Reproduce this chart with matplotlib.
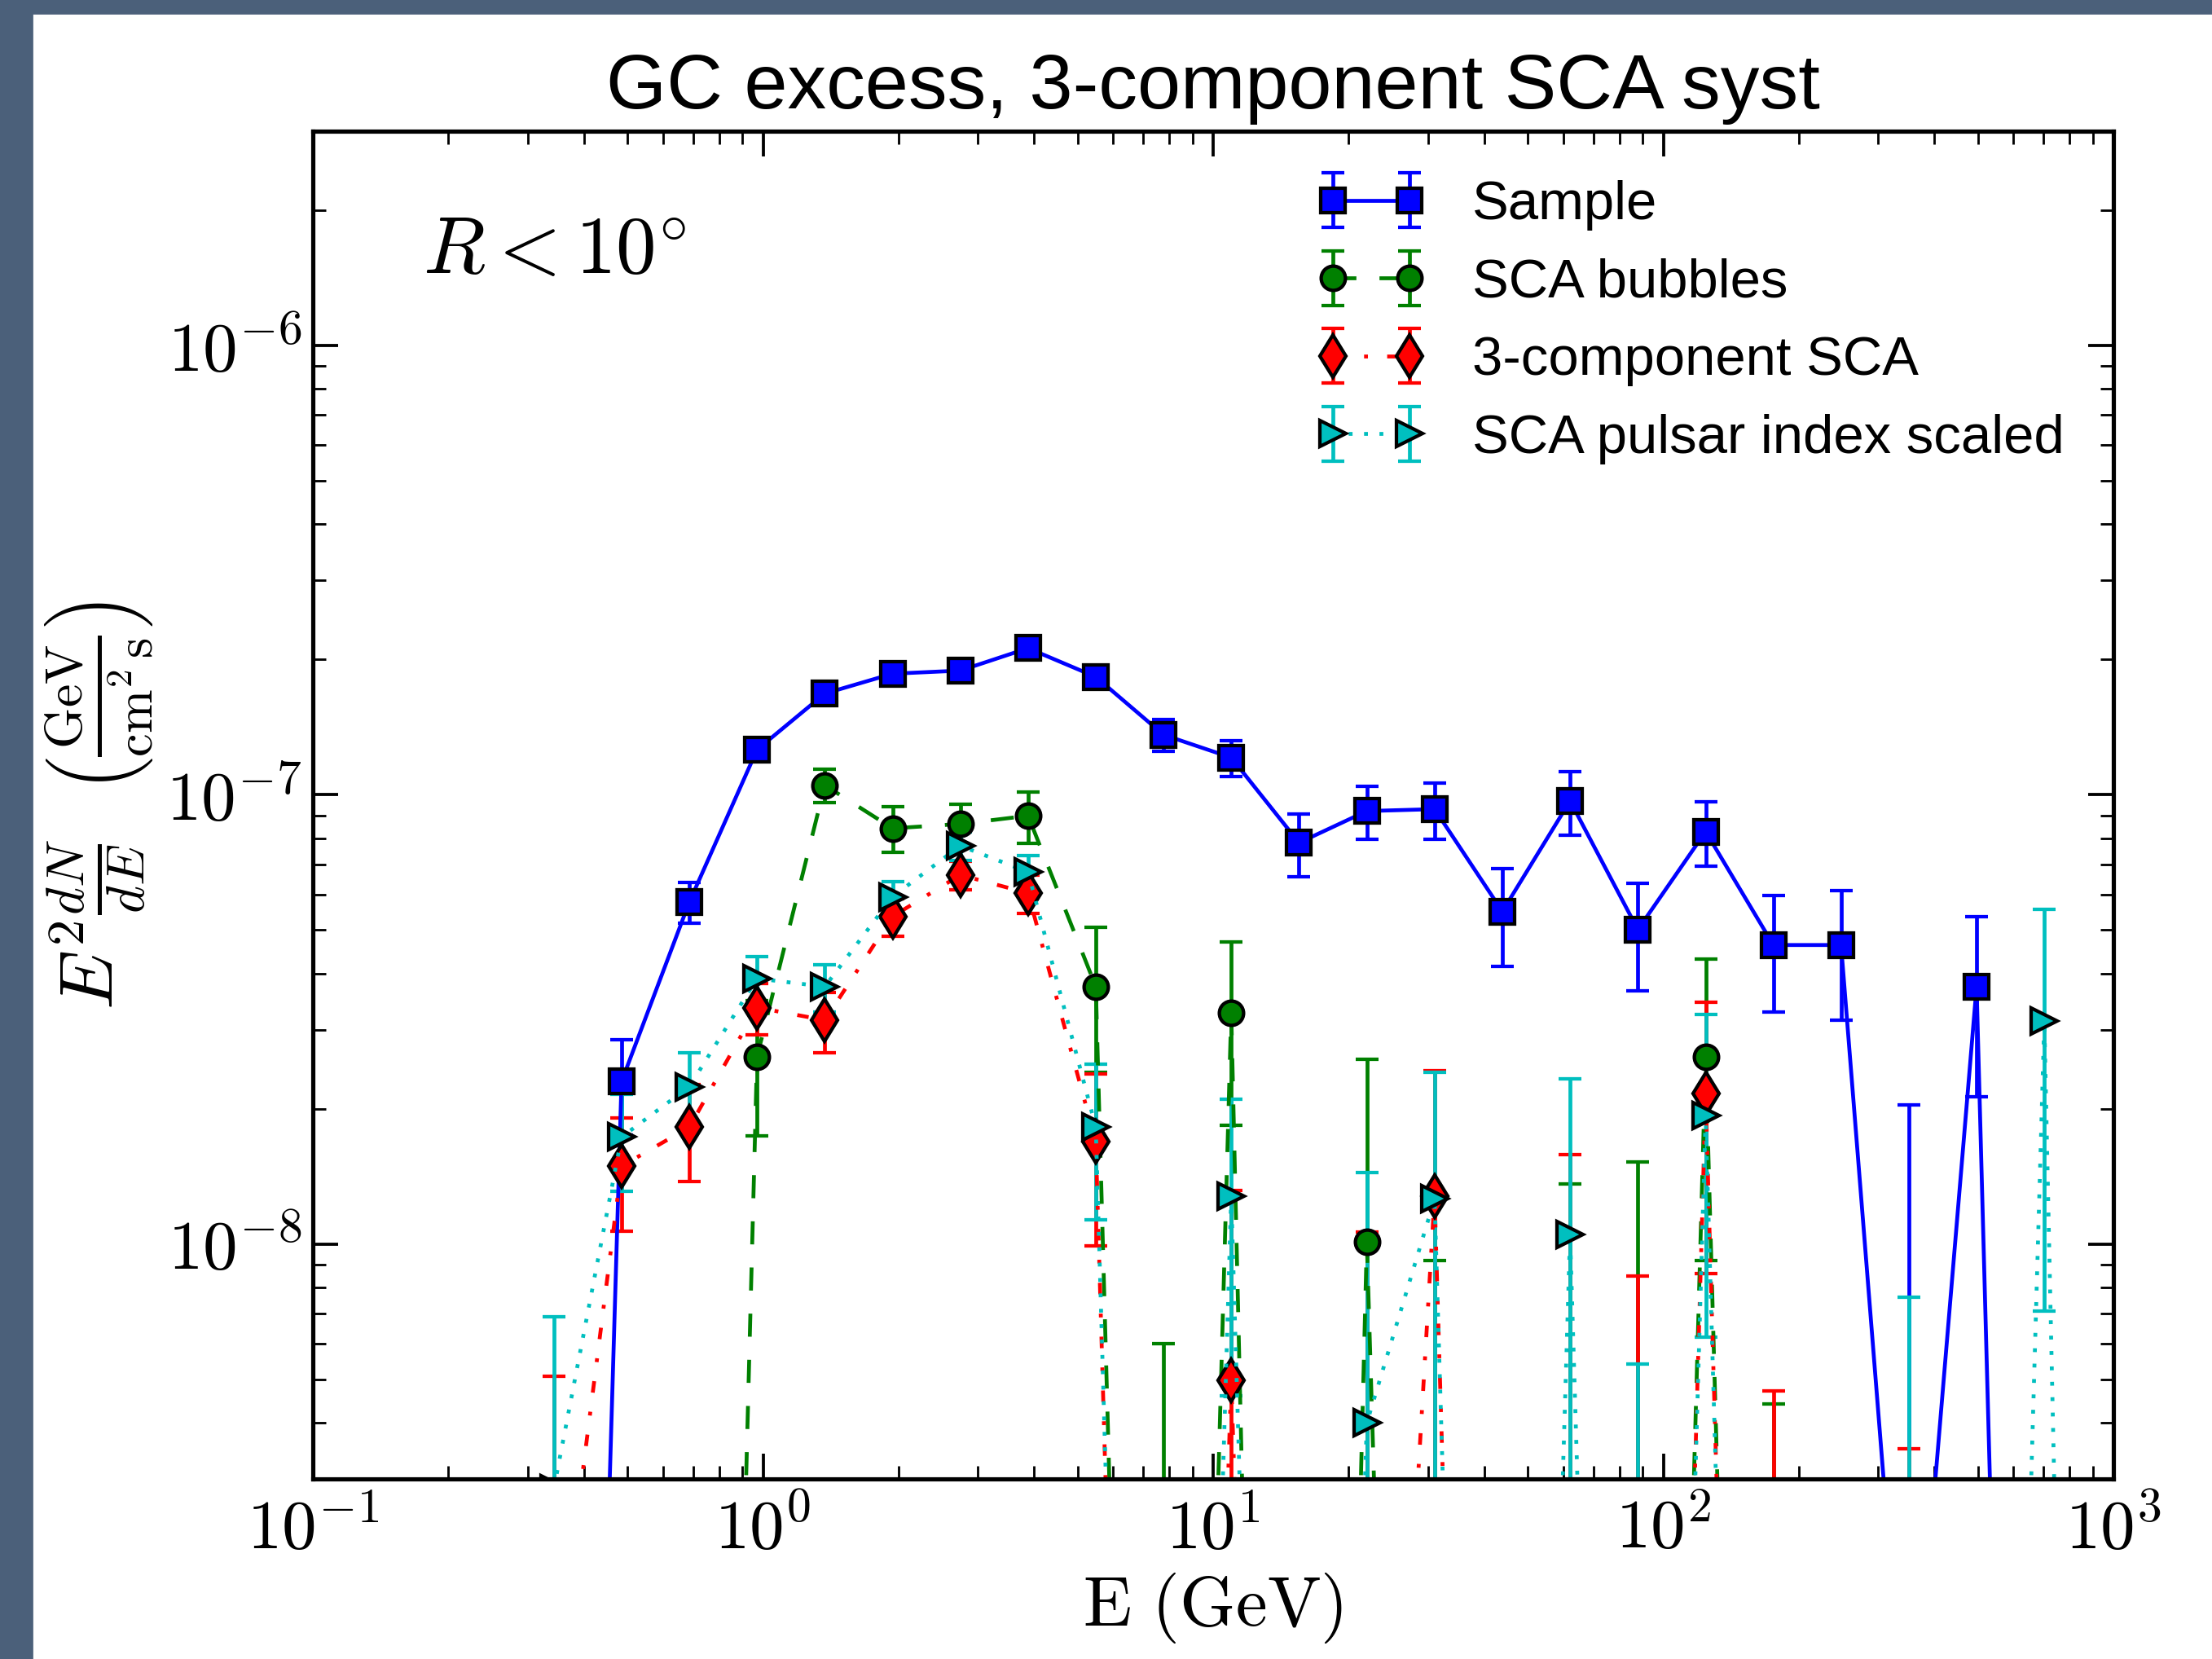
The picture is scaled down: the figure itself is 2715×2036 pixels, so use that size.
import numpy as np, matplotlib
matplotlib.use('Agg')
import matplotlib.pyplot as plt
import matplotlib.patches as mpatches
from matplotlib.ticker import FuncFormatter, NullFormatter, LogLocator

SLATE = '#4b607a'; BLUE = '#0000ff'; GREEN = '#008000'; RED = '#ff0000'; CYAN = '#00bfbf'
plt.rcParams.update({
    'font.family': 'Liberation Sans', 'mathtext.fontset': 'cm',
    'lines.scale_dashes': False, 'lines.dashed_pattern': [6, 6],
    'lines.dashdot_pattern': [3, 5, 1, 5], 'lines.dotted_pattern': [1, 3],
    'xtick.direction': 'in', 'ytick.direction': 'in', 'xtick.top': True, 'ytick.right': True,
    'xtick.major.size': 6.5, 'ytick.major.size': 6.5, 'xtick.minor.size': 3.3, 'ytick.minor.size': 3.3,
    'xtick.major.width': 0.8, 'ytick.major.width': 0.8, 'xtick.minor.width': 0.6, 'ytick.minor.width': 0.6,
    'xtick.major.pad': 5, 'ytick.major.pad': 3, 'axes.linewidth': 1.1,
})

# energy bin centres (GeV)
energy = [0.343, 0.485, 0.686, 0.970, 1.372, 1.940, 2.744, 3.880, 5.487, 7.760, 10.97, 15.52,
          21.95, 31.04, 43.90, 62.08, 87.80, 124.2, 175.6, 248.3, 351.2, 496.6, 702.3, 993.2]

sample = [1.9e-13, 2.30e-8, 5.77e-8, 1.26e-7, 1.68e-7, 1.86e-7, 1.89e-7, 2.12e-7, 1.83e-7, 1.36e-7,
          1.21e-7, 7.82e-8, 9.20e-8, 9.29e-8, 5.50e-8, 9.69e-8, 5.01e-8, 8.28e-8, 4.63e-8, 4.63e-8,
          5.9e-10, 3.74e-8, 1.0e-13, 1.0e-13]
sample_err = [0, 5.5e-9, 6.0e-9, 5e-9, 5e-9, 5e-9, 5e-9, 6e-9, 7e-9, 1.1e-8,
              1.1e-8, 1.25e-8, 1.25e-8, 1.33e-8, 1.35e-8, 1.55e-8, 1.35e-8, 1.35e-8, 1.34e-8, 1.48e-8,
              1.98e-8, 1.61e-8, 0, 0]

bubbles = [1e-13, 1e-13, 4e-14, 2.61e-8, 1.05e-7, 8.42e-8, 8.61e-8, 8.98e-8, 3.74e-8, 1.2e-13,
           3.27e-8, 1e-14, 1.01e-8, 1e-13, 1e-13, 1e-13, 1e-13, 2.61e-8, 1e-13, 1e-13,
           1e-13, 1e-13, 1e-13, 1e-13]
bubbles_err = [0, 0, 0, 8.7e-9, 9.1e-9, 9.7e-9, 9.0e-9, 1.18e-8, 1.33e-8, 6.0e-9,
               1.43e-8, 0, 1.57e-8, 9.2e-9, 0, 1.36e-8, 1.52e-8, 1.69e-8, 4.4e-9, 0,
               0, 0, 0, 0]

three_comp = [9.7e-10, 1.49e-8, 1.82e-8, 3.36e-8, 3.15e-8, 5.36e-8, 6.63e-8, 6.04e-8, 1.69e-8, 1e-13,
              4.98e-9, 1e-13, 3.5e-11, 1.28e-8, 1e-13, 1e-13, 1e-13, 2.16e-8, 1e-13, 1e-13,
              1e-13, 1e-13, 1e-13, 1e-13]
three_comp_err = [4.1e-9, 4.2e-9, 4.4e-9, 4.4e-9, 4.8e-9, 5.1e-9, 4.8e-9, 5.9e-9, 7.0e-9, 0,
                  8.2e-9, 0, 1.06e-8, 1.15e-8, 0, 1.58e-8, 8.5e-9, 1.30e-8, 4.7e-9, 0,
                  3.5e-9, 0, 0, 0]

pulsar = [2.85e-9, 1.73e-8, 2.24e-8, 3.90e-8, 3.74e-8, 5.93e-8, 7.70e-8, 6.73e-8, 1.82e-8, 1e-13,
          1.28e-8, 1e-13, 4.0e-9, 1.26e-8, 1e-13, 1.05e-8, 1e-13, 1.93e-8, 1e-13, 1e-13,
          1e-13, 1.7e-13, 3.14e-8, 3e-15]
pulsar_err = [4.05e-9, 4.2e-9, 4.2e-9, 4.6e-9, 4.5e-9, 4.8e-9, 5.5e-9, 5.9e-9, 6.9e-9, 0,
              8.2e-9, 0, 1.04e-8, 1.15e-8, 0, 1.28e-8, 5.4e-9, 1.31e-8, 0, 0,
              7.6e-9, 0, 2.43e-8, 0]

W, H, DPI = 2715, 2036, 340
fig = plt.figure(figsize=(W/DPI, H/DPI), dpi=DPI, facecolor='white')
# dark window frame along the left and top edges
fig.patches.append(mpatches.Rectangle((0, 0), 38/W, 1, transform=fig.transFigure, color=SLATE, zorder=-1))
fig.patches.append(mpatches.Rectangle((0, 1-15/H), 1, 15/H, transform=fig.transFigure, color=SLATE, zorder=-1))

ax = fig.add_axes([384/W, 1-1815/H, 2210/W, 1654/H])
ax.set_xscale('log'); ax.set_yscale('log')

series = [
    (sample, sample_err, 's-', BLUE, 6.3, 'Sample'),
    (bubbles, bubbles_err, 'o--', GREEN, 6.3, 'SCA bubbles'),
    (three_comp, three_comp_err, 'd-.', RED, 7.8, '3-component SCA'),
    (pulsar, pulsar_err, '>:', CYAN, 6.8, 'SCA pulsar index scaled'),
]
for y, err, fmt, col, ms, lab in series:
    ax.errorbar(energy, y, yerr=err, fmt=fmt, color=col, ecolor=col, mfc=col, mec='k', mew=0.9,
                ms=ms, lw=1.0, elinewidth=1.0, capsize=3, capthick=1.0, label=lab)

ax.set_xlim(0.1, 1000); ax.set_ylim(3e-9, 3e-6)
decade = FuncFormatter(lambda v, p: r'$10^{%d}$' % int(round(np.log10(v))))
ax.xaxis.set_major_formatter(decade); ax.yaxis.set_major_formatter(decade)
ax.xaxis.set_minor_locator(LogLocator(subs=np.arange(2, 10), numticks=20))
ax.yaxis.set_minor_locator(LogLocator(subs=np.arange(2, 10), numticks=20))
ax.xaxis.set_minor_formatter(NullFormatter()); ax.yaxis.set_minor_formatter(NullFormatter())
ax.tick_params(which='both', labelsize=18)

ax.set_xlabel(r'$\mathrm{E\ (GeV)}$', fontsize=18.5, labelpad=2)
ax.set_ylabel(r'$E^2\frac{dN}{dE}\ \ \left(\frac{\mathrm{GeV}}{\mathrm{cm}^2\,\mathrm{s}}\right)$', fontsize=19.5, labelpad=3)
ax.set_title('GC excess, 3-component SCA syst', fontsize=20.2, pad=6)
ax.text(0.061, 0.909, r'$R < 10^{\circ}$', transform=ax.transAxes, fontsize=21, ha='left', va='center')

ax.legend(loc='upper right', frameon=False, numpoints=2, fontsize=14.2, handlelength=2.0,
          labelspacing=0.5, handletextpad=0.85, borderaxespad=0.5)

fig.savefig('out.png', dpi=DPI)
